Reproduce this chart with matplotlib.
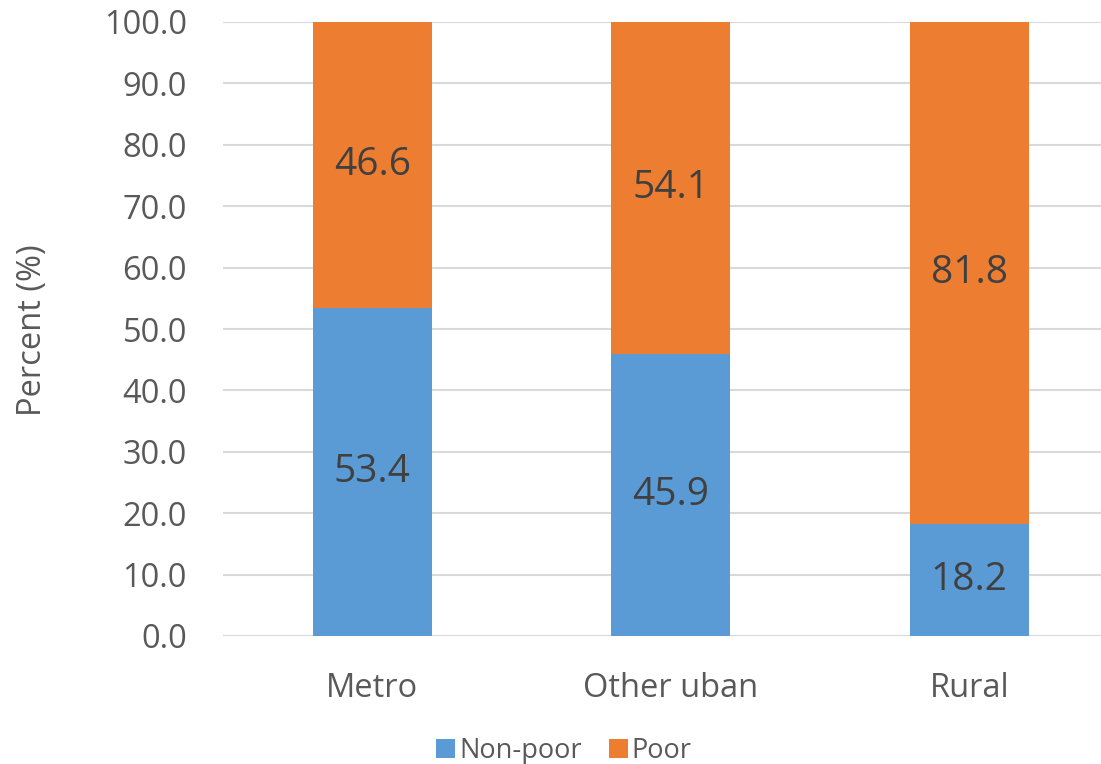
import matplotlib.pyplot as plt
import numpy as np

# Share of poor / non-poor households by area type
categories = ["Metro", "Other uban", "Rural"]
non_poor = [53.4, 45.9, 18.2]
poor = [46.6, 54.1, 81.8]

BLUE = "#5B9BD5"
ORANGE = "#ED7D31"
TICK_GREY = "#595959"
LABEL_GREY = "#404040"

plt.rcParams['font.family'] = ['Open Sans', 'DejaVu Sans']

fig = plt.figure(figsize=(11.01, 7.64), dpi=100)
ax = fig.add_axes([223 / 1101, 128 / 764, 895.5 / 1101, 614 / 764])

x = np.arange(len(categories))
width = 0.4
b1 = ax.bar(x, non_poor, width, color=BLUE, label="Non-poor", zorder=3)
b2 = ax.bar(x, poor, width, bottom=non_poor, color=ORANGE, label="Poor", zorder=3)

for bars, vals, base in [(b1, non_poor, [0] * 3), (b2, poor, non_poor)]:
    for rect, v, b in zip(bars, vals, base):
        ax.text(rect.get_x() + rect.get_width() / 2, b + v / 2, f"{v:.1f}",
                ha="center", va="center", fontsize=28, color=LABEL_GREY, zorder=4)

ax.set_xlim(-0.5, 2.5)
ax.set_ylim(0, 100)
ax.set_yticks(np.arange(0, 101, 10))
ax.set_yticklabels([f"{t:.1f}" for t in np.arange(0, 101, 10)])
ax.set_xticks(x)
ax.set_xticklabels(categories)

ax.tick_params(axis="y", length=0, pad=26, labelsize=23.5, labelcolor=TICK_GREY)
ax.tick_params(axis="x", length=0, pad=26, labelsize=23.5, labelcolor=TICK_GREY)
for side in ["top", "right", "left", "bottom"]:
    ax.spines[side].set_visible(False)
ax.yaxis.grid(True, color="#D9D9D9", linewidth=1.5, zorder=0)
ax.set_axisbelow(True)

fig.text(32 / 1101, 1 - 330 / 764, "Percent (%)", rotation=90, ha="center", va="center",
         fontsize=23.5, color=TICK_GREY)

fig.legend(handles=[b1, b2], loc="center", bbox_to_anchor=(564 / 1101, 1 - 751 / 764),
           ncol=2, frameon=False, fontsize=19.5, labelcolor=TICK_GREY,
           handlelength=0.7, handleheight=0.7, handletextpad=0.15, columnspacing=1.0)

fig.savefig("out.png", dpi=100)
